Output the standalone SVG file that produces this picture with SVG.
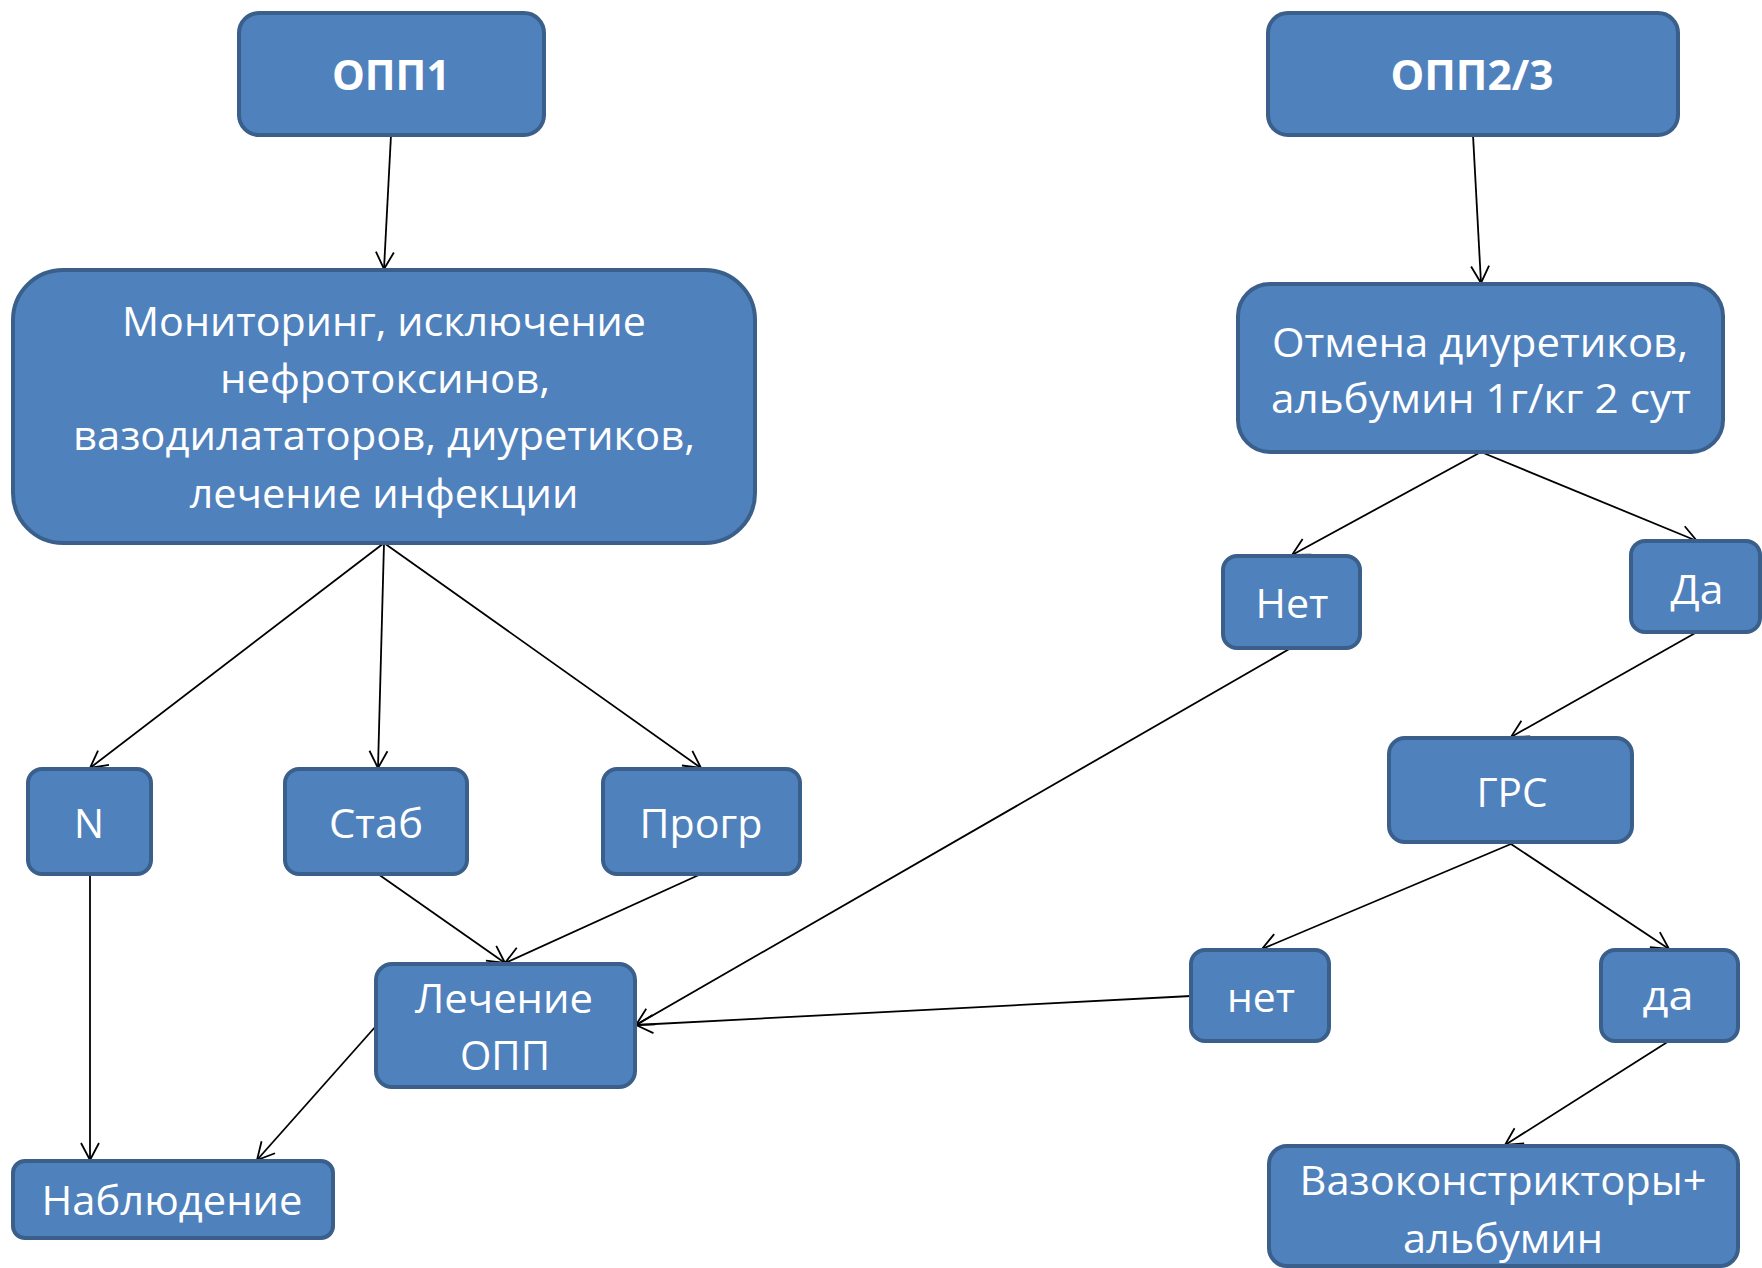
<svg xmlns="http://www.w3.org/2000/svg" width="1762" height="1268" viewBox="0 0 1762 1268">
<style>
.box{fill:#4F81BD;stroke:#3A5F8B;stroke-width:4}
.t{fill:#fff;font-family:"Open Sans","Noto Sans",sans-serif;font-size:41px;text-anchor:middle}
.b{font-weight:bold;font-size:42px}
.c{stroke:#000;stroke-width:1.8;fill:none;marker-end:url(#arr)}
</style>
<defs>
<marker id="arr" markerUnits="userSpaceOnUse" markerWidth="24" markerHeight="24" viewBox="-20 -12 24 24" refX="0" refY="0" orient="auto" overflow="visible">
<path d="M-17,-9 L0,0 L-17,9" fill="none" stroke="#000" stroke-width="1.8"/>
</marker>
</defs>
<rect width="1762" height="1268" fill="#fff"/>
<g id="connectors">
<line class="c" x1="391" y1="135" x2="384" y2="269"/>
<line class="c" x1="1473" y1="135" x2="1481" y2="283"/>
<line class="c" x1="384" y1="543" x2="90" y2="768"/>
<line class="c" x1="384" y1="543" x2="378" y2="768"/>
<line class="c" x1="384" y1="543" x2="701" y2="768"/>
<line class="c" x1="1481" y1="452" x2="1292" y2="555"/>
<line class="c" x1="1481" y1="452" x2="1697" y2="541"/>
<line class="c" x1="1697" y1="632" x2="1511" y2="737"/>
<line class="c" x1="1511" y1="844" x2="1262" y2="949"/>
<line class="c" x1="1511" y1="844" x2="1669" y2="949"/>
<line class="c" x1="1669" y1="1041" x2="1505" y2="1145"/>
<line class="c" x1="1291" y1="648" x2="636" y2="1025"/>
<line class="c" x1="1191" y1="996" x2="636" y2="1025"/>
<line class="c" x1="90" y1="874" x2="90" y2="1160"/>
<line class="c" x1="378" y1="874" x2="505" y2="963"/>
<line class="c" x1="701" y1="874" x2="505" y2="963"/>
<line class="c" x1="376" y1="1026" x2="257" y2="1160"/>
</g>
<g id="opp1"><rect class="box" x="239" y="13" width="305" height="122" rx="20"/><text class="t b" x="391" y="90" textLength="118" lengthAdjust="spacingAndGlyphs">ОПП1</text></g>
<g id="opp23"><rect class="box" x="1268" y="13" width="410" height="122" rx="20"/><text class="t b" x="1472" y="90" textLength="163" lengthAdjust="spacingAndGlyphs">ОПП2/3</text></g>
<g id="monitoring"><rect class="box" x="13" y="270" width="742" height="273" rx="50"/>
<text class="t" x="384" y="336" textLength="524" lengthAdjust="spacingAndGlyphs">Мониторинг, исключение</text>
<text class="t" x="385" y="393" textLength="330" lengthAdjust="spacingAndGlyphs">нефротоксинов,</text>
<text class="t" x="384" y="450" textLength="622" lengthAdjust="spacingAndGlyphs">вазодилататоров, диуретиков,</text>
<text class="t" x="384" y="508" textLength="389" lengthAdjust="spacingAndGlyphs">лечение инфекции</text></g>
<g id="otmena"><rect class="box" x="1238" y="284" width="485" height="168" rx="32"/>
<text class="t" x="1480" y="357" textLength="416" lengthAdjust="spacingAndGlyphs">Отмена диуретиков,</text>
<text class="t" x="1481" y="413" textLength="420" lengthAdjust="spacingAndGlyphs">альбумин 1г/кг 2 сут</text></g>
<g id="net1"><rect class="box" x="1223" y="556" width="137" height="92" rx="14"/><text class="t" x="1292" y="618" textLength="73" lengthAdjust="spacingAndGlyphs">Нет</text></g>
<g id="da1"><rect class="box" x="1631" y="541" width="129" height="91" rx="14"/><text class="t" x="1697" y="604" textLength="53" lengthAdjust="spacingAndGlyphs">Да</text></g>
<g id="grs"><rect class="box" x="1389" y="738" width="243" height="104" rx="16"/><text class="t" x="1512" y="807" textLength="71" lengthAdjust="spacingAndGlyphs">ГРС</text></g>
<g id="net2"><rect class="box" x="1191" y="950" width="138" height="91" rx="14"/><text class="t" x="1261" y="1012" textLength="68" lengthAdjust="spacingAndGlyphs">нет</text></g>
<g id="da2"><rect class="box" x="1601" y="950" width="137" height="91" rx="14"/><text class="t" x="1668" y="1010" textLength="51" lengthAdjust="spacingAndGlyphs">да</text></g>
<g id="vazo"><rect class="box" x="1269" y="1146" width="469" height="120" rx="18"/>
<text class="t" x="1503" y="1195" textLength="407" lengthAdjust="spacingAndGlyphs">Вазоконстрикторы+</text>
<text class="t" x="1503" y="1253" textLength="200" lengthAdjust="spacingAndGlyphs">альбумин</text></g>
<g id="n"><rect class="box" x="28" y="769" width="123" height="105" rx="14"/><text class="t" x="89" y="838" textLength="30" lengthAdjust="spacingAndGlyphs">N</text></g>
<g id="stab"><rect class="box" x="285" y="769" width="182" height="105" rx="14"/><text class="t" x="376" y="838" textLength="94" lengthAdjust="spacingAndGlyphs">Стаб</text></g>
<g id="progr"><rect class="box" x="603" y="769" width="197" height="105" rx="14"/><text class="t" x="701" y="838" textLength="123" lengthAdjust="spacingAndGlyphs">Прогр</text></g>
<g id="lechenie"><rect class="box" x="376" y="964" width="259" height="123" rx="16"/>
<text class="t" x="504" y="1013" textLength="178" lengthAdjust="spacingAndGlyphs">Лечение</text>
<text class="t" x="505" y="1070" textLength="90" lengthAdjust="spacingAndGlyphs">ОПП</text></g>
<g id="nabl"><rect class="box" x="13" y="1161" width="320" height="77" rx="12"/><text class="t" x="172" y="1215" textLength="261" lengthAdjust="spacingAndGlyphs">Наблюдение</text></g>
</svg>
